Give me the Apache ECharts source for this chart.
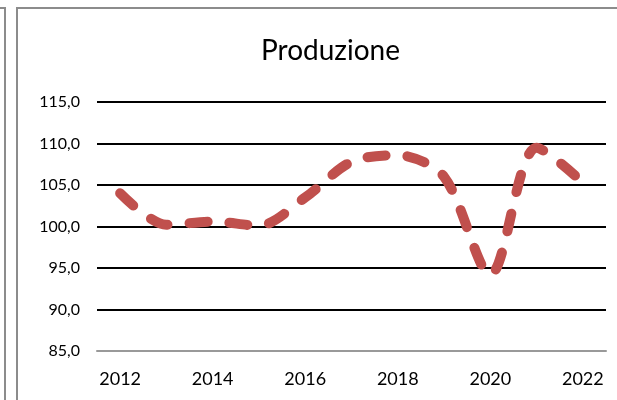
<!DOCTYPE html>
<html>
<head>
<meta charset="utf-8">
<script src="https://cdn.jsdelivr.net/npm/echarts@6/dist/echarts.min.js"></script>
<style>
  html, body { margin: 0; padding: 0; background: #fff; }
  #chart { width: 617px; height: 400px; }
</style>
</head>
<body>
<div id="chart"></div>
<script>
// dati
var anni = ['2012', '2013', '2014', '2015', '2016', '2017', '2018', '2019', '2020', '2021', '2022']
var produzione = [104.0, 100.2, 100.6, 100.1, 103.5, 107.8, 108.6, 106.0, 94.2, 109.5, 105.3]
var yMin = 85
var yMax = 115
var yStep = 5

var myChart = echarts.init(document.getElementById('chart'))

var option = {
  animation: false,
  textStyle: { fontFamily: 'Lato' },
  title: {
    text: 'Produzione',
    left: 256,
    top: 32,
    textStyle: { fontSize: 28, fontWeight: 'normal', color: '#000', fontFamily: 'Lato' }
  },
  grid: { left: 97, right: 11, top: 102, bottom: 49 },
  xAxis: {
    type: 'category',
    data: anni,
    boundaryGap: true,
    axisLine: { lineStyle: { color: '#999', width: 2 } },
    axisTick: { show: false },
    axisLabel: { interval: 1, color: '#000', fontSize: 18, margin: 19 }
  },
  yAxis: {
    type: 'value',
    min: yMin,
    max: yMax,
    interval: yStep,
    axisLine: { show: false },
    axisTick: { show: false },
    axisLabel: {
      color: '#000',
      fontSize: 16,
      margin: 17,
      formatter: function (v) { return v.toFixed(1).replace('.', ',') }
    },
    splitLine: { lineStyle: { color: ['#999', '#000', '#000', '#000', '#000', '#000', '#000'], width: 2 } }
  },
  series: [{
    type: 'line',
    data: produzione,
    smooth: 0.3,
    symbol: 'none',
    lineStyle: { color: '#C0504D', width: 10, type: [18, 22], cap: 'round' }
  }],
  graphic: [
    { type: 'polyline', shape: { points: [[0, 8], [5, 8], [5, 400]] }, style: { stroke: '#8c8c8c', lineWidth: 2, fill: null } },
    { type: 'polyline', shape: { points: [[17, 400], [17, 8], [617, 8]] }, style: { stroke: '#8c8c8c', lineWidth: 2, fill: null } }
  ]
}

myChart.setOption(option)
</script>
</body>
</html>
